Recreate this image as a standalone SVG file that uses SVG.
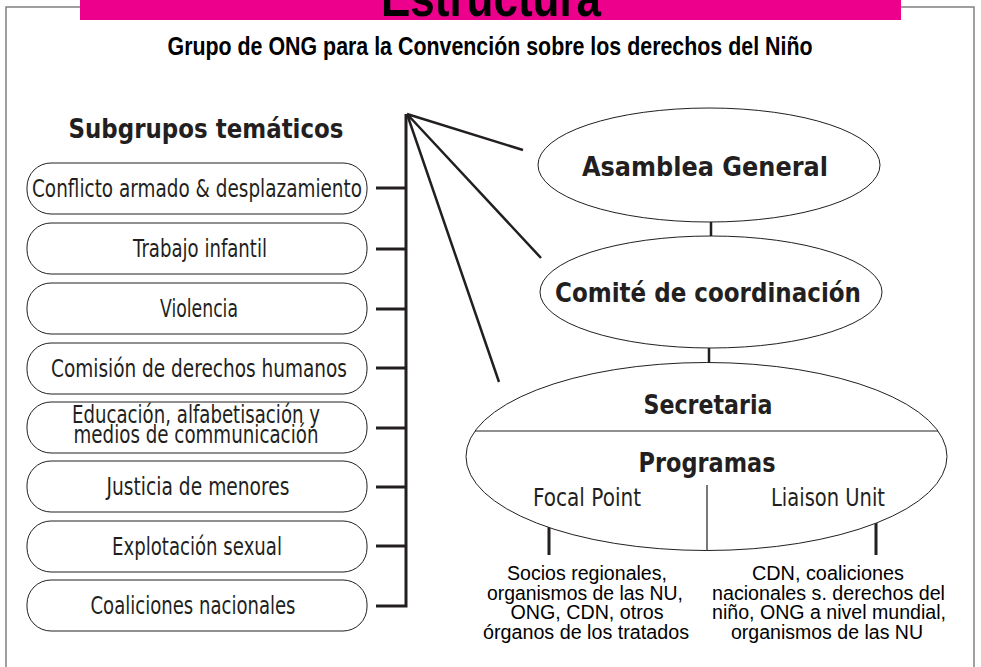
<svg xmlns="http://www.w3.org/2000/svg" width="981" height="667" viewBox="0 0 981 667">
<style>
.frame{fill:none;stroke:#808080;stroke-width:1.5}
.pill{fill:#fff;stroke:#231f20;stroke-width:1}
.ell{fill:#fff;stroke:#231f20;stroke-width:1}
.pt{font-family:"DejaVu Sans",sans-serif;font-size:25px;fill:#231f20;text-anchor:middle}
.bt{font-family:"DejaVu Sans",sans-serif;font-weight:bold;font-size:27px;fill:#231f20;text-anchor:middle}
.at{font-family:"Liberation Sans",Arial,sans-serif;font-size:20px;fill:#000;text-anchor:middle}
.con{stroke:#231f20;stroke-width:3;fill:none}
.fan{stroke:#231f20;stroke-width:2.5;fill:none}
.thin{stroke:#231f20;stroke-width:1.2;fill:none}
</style>
<rect width="981" height="667" fill="#fff"/>
<rect class="frame" x="6" y="7" width="968" height="700"/>
<g id="banner">
<rect x="80" y="0" width="821" height="20" fill="#ec008c"/>
<text x="491" y="16" font-family="'Liberation Sans',Arial,sans-serif" font-weight="bold" font-size="54" fill="#000" text-anchor="middle" textLength="220" lengthAdjust="spacingAndGlyphs">Estructura</text>
</g>
<text id="title" x="490" y="55" font-family="'Liberation Sans',Arial,sans-serif" font-weight="bold" font-size="26" fill="#000" text-anchor="middle" textLength="645" lengthAdjust="spacingAndGlyphs">Grupo de ONG para la Convención sobre los derechos del Niño</text>
<text id="subgrupos" x="206" y="138" class="bt" font-size="28" textLength="275" lengthAdjust="spacingAndGlyphs">Subgrupos temáticos</text>

<g id="connectors">
<path class="con" d="M376,188 H406 M376,249 H406 M376,309 H406 M376,368 H406 M376,428 H406 M376,487 H406 M376,546 H406 M376,606 H406 V114"/>
<path class="fan" d="M407,114 L523,150 M407,114 L541,258 M407,114 L499,382"/>
<path class="fan" d="M711,222 V236 M709,348 V363"/>
<path class="con" d="M549,514 V555 M876,512 V555"/>
</g>

<g id="sg1"><rect class="pill" x="27" y="163" width="340" height="51" rx="24"/><text class="pt" x="197" y="197" textLength="330" lengthAdjust="spacingAndGlyphs">Conflicto armado &amp; desplazamiento</text></g>
<g id="sg2"><rect class="pill" x="27" y="223" width="340" height="51" rx="24"/><text class="pt" x="200" y="257" textLength="134" lengthAdjust="spacingAndGlyphs">Trabajo infantil</text></g>
<g id="sg3"><rect class="pill" x="27" y="283" width="340" height="51" rx="24"/><text class="pt" x="199" y="317" textLength="78" lengthAdjust="spacingAndGlyphs">Violencia</text></g>
<g id="sg4"><rect class="pill" x="27" y="343" width="340" height="51" rx="24"/><text class="pt" x="199" y="377" textLength="296" lengthAdjust="spacingAndGlyphs">Comisión de derechos humanos</text></g>
<g id="sg5"><rect class="pill" x="27" y="402" width="340" height="51" rx="24"/><text class="pt" x="196" y="423" font-size="22" textLength="248" lengthAdjust="spacingAndGlyphs">Educación, alfabetisación y</text><text class="pt" x="196" y="443" font-size="22" textLength="245" lengthAdjust="spacingAndGlyphs">medios de communicación</text></g>
<g id="sg6"><rect class="pill" x="27" y="461" width="340" height="51" rx="24"/><text class="pt" x="198" y="495" textLength="183" lengthAdjust="spacingAndGlyphs">Justicia de menores</text></g>
<g id="sg7"><rect class="pill" x="27" y="521" width="340" height="51" rx="24"/><text class="pt" x="197" y="555" textLength="170" lengthAdjust="spacingAndGlyphs">Explotación sexual</text></g>
<g id="sg8"><rect class="pill" x="27" y="580" width="340" height="51" rx="24"/><text class="pt" x="193" y="614" textLength="205" lengthAdjust="spacingAndGlyphs">Coaliciones nacionales</text></g>

<g id="asamblea"><ellipse class="ell" cx="709" cy="165" rx="171" ry="57"/><text class="bt" x="705" y="176" textLength="246" lengthAdjust="spacingAndGlyphs">Asamblea General</text></g>
<g id="comite"><ellipse class="ell" cx="711" cy="292" rx="171" ry="56"/><text class="bt" x="708" y="302" textLength="306" lengthAdjust="spacingAndGlyphs">Comité de coordinación</text></g>
<g id="secretaria">
<ellipse class="ell" cx="706.5" cy="456.5" rx="240.5" ry="94"/>
<path class="thin" d="M475,431 H938 M707,485 V550.5"/>
<text class="bt" x="708" y="414" textLength="129" lengthAdjust="spacingAndGlyphs">Secretaria</text>
<text class="bt" x="707" y="472" textLength="137" lengthAdjust="spacingAndGlyphs">Programas</text>
<text class="pt" x="587" y="506" textLength="108" lengthAdjust="spacingAndGlyphs">Focal Point</text>
<text class="pt" x="828" y="506" textLength="114" lengthAdjust="spacingAndGlyphs">Liaison Unit</text>
</g>
<g id="focal-partners">
<text class="at" x="587" y="580" textLength="160" lengthAdjust="spacingAndGlyphs">Socios regionales,</text>
<text class="at" x="585" y="599.5" textLength="196" lengthAdjust="spacingAndGlyphs">organismos de las NU,</text>
<text class="at" x="587" y="619" textLength="153" lengthAdjust="spacingAndGlyphs">ONG, CDN, otros</text>
<text class="at" x="586" y="638.5" textLength="206" lengthAdjust="spacingAndGlyphs">órganos de los tratados</text>
</g>
<g id="liaison-partners">
<text class="at" x="828" y="580" textLength="152" lengthAdjust="spacingAndGlyphs">CDN, coaliciones</text>
<text class="at" x="828.5" y="599.5" textLength="233" lengthAdjust="spacingAndGlyphs">nacionales s. derechos del</text>
<text class="at" x="829" y="619" textLength="234" lengthAdjust="spacingAndGlyphs">niño, ONG a nivel mundial,</text>
<text class="at" x="827" y="638.5" textLength="192" lengthAdjust="spacingAndGlyphs">organismos de las NU</text>
</g>
</svg>
